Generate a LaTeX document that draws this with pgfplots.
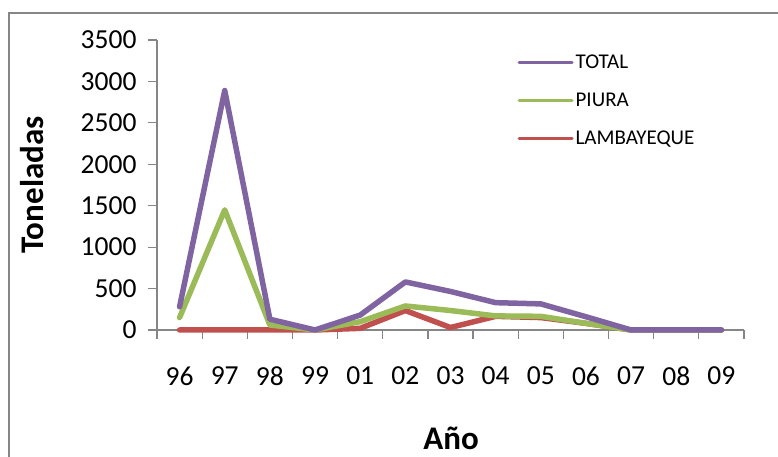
\documentclass[border=0pt]{standalone}
\usepackage{pgfplots}
\pgfplotsset{compat=1.18}
\usepackage{fontspec}
\setmainfont{Carlito}
\definecolor{cTotal}{HTML}{8064A2}
\definecolor{cPiura}{HTML}{9BBB59}
\definecolor{cLamb}{HTML}{C0504D}
\definecolor{axgray}{HTML}{868686}
\begin{document}
\begin{tikzpicture}
\useasboundingbox (-157pt,-127pt) rectangle (621pt,330pt);
\draw[axgray, line width=1.2pt] (-148pt,-140pt) -- (-148pt,317pt) -- (640pt,317pt);
\begin{axis}[
  at={(0,0)}, anchor=south west,
  scale only axis, width=587pt, height=290pt,
  xmin=-0.5, xmax=12.5, ymin=0, ymax=3500,
  axis x line*=bottom, axis y line*=left,
  axis line style={axgray, line width=1.2pt, -},
  clip=false,
  tick align=outside,
  xtick={0,...,12},
  xticklabels={96,97,98,99,01,02,03,04,05,06,07,08,09},
  major x tick style={draw=none},
  minor xtick={-0.5,0.5,...,12.5},
  minor x tick style={axgray, line width=1.2pt},
  minor tick length=9pt,
  ytick={0,500,...,3500},
  major y tick style={axgray, line width=1.2pt},
  major tick length=9pt,
  /pgf/number format/assume math mode=true,
  /pgf/number format/set thousands separator={},
  ticklabel style={font=\fontsize{27.5}{32}\selectfont, text=black},
  xticklabel style={yshift=-24pt},
  yticklabel style={xshift=-8pt},
  every axis y label/.style={at={(axis description cs:-0.213,0.5)}, rotate=90, anchor=center, font=\fontsize{33}{38}\selectfont\bfseries},
  every axis x label/.style={at={(axis description cs:0.501,-0.372)}, anchor=center, font=\fontsize{33}{38}\selectfont\bfseries},
  ylabel={Toneladas}, xlabel={Año},
  reverse legend,
  legend style={at={(axis description cs:0.614,0.955)}, anchor=north west, draw=none, fill=none,
    font=\fontsize{21}{25}\selectfont, row sep=19pt, inner sep=0pt},
  legend cell align=left,
  legend image code/.code={\draw[#1, line width=3pt, line cap=round] (0pt,0pt) -- (53pt,0pt);},
  every axis plot/.append style={line width=5.5pt, line cap=round, line join=round, mark=none},
]
\addplot[cLamb] coordinates {(0,0) (1,0) (2,0) (3,0) (4,20) (5,235) (6,30) (7,165) (8,150) (9,80) (10,0) (11,0) (12,0)};
\addlegendentry{LAMBAYEQUE}
\addplot[cPiura] coordinates {(0,150) (1,1450) (2,60) (3,0) (4,100) (5,290) (6,235) (7,170) (8,165) (9,80) (10,0) (11,0) (12,0)};
\addlegendentry{PIURA}
\addplot[cTotal] coordinates {(0,280) (1,2890) (2,130) (3,0) (4,180) (5,580) (6,465) (7,330) (8,315) (9,160) (10,0) (11,0) (12,0)};
\addlegendentry{TOTAL}
\end{axis}
\end{tikzpicture}
\end{document}
